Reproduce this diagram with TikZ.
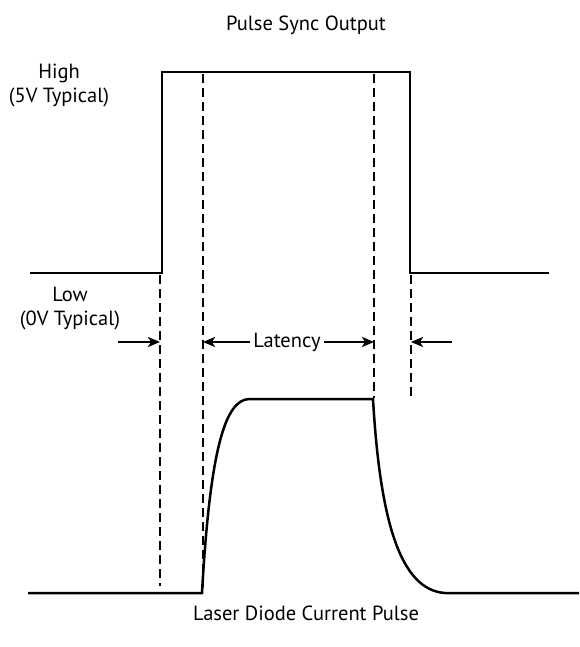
\documentclass[tikz,border=0pt]{standalone}
\usepackage{fontspec}
\setmainfont{PT Sans}
\usetikzlibrary{arrows.meta}

\begin{document}
\begin{tikzpicture}[x=1pt, y=-1pt, >={Stealth[length=12pt,width=10pt,inset=3pt]},
  sig/.style={line width=2.5pt},
  guide/.style={line width=2.3pt, dash pattern=on 9pt off 5pt},
  lbl/.style={font=\fontsize{20.5}{24}\selectfont, align=center}]
\useasboundingbox (0,0) rectangle (579,647);
\node[lbl] (title) at (306,25) {Pulse Sync Output};
\node[lbl] (high) at (59,85) {High\\(5V Typical)};
\node[lbl] (low) at (70,309) {Low\\(0V Typical)};
\node[lbl] (lat) at (287,342) {Latency};
\node[lbl] (ldcp) at (306,613) {Laser Diode Current Pulse};
\coordinate (S0) at (30,273);
\coordinate (S1) at (162,273);
\coordinate (S2) at (162,72);
\coordinate (S3) at (410,72);
\coordinate (S4) at (410,273);
\coordinate (S5) at (549,273);
\draw[sig, line join=miter] (S0) -- (S1) -- (S2) -- (S3) -- (S4) -- (S5);
\coordinate (L0) at (28,593);
\coordinate (L1) at (202,593);
\coordinate (L2) at (249,399);
\coordinate (L3) at (373,399);
\coordinate (L4) at (445,593);
\coordinate (L5) at (579,593);
\draw[sig] (L0) -- (L1) .. controls (210,450) and (225,400) .. (L2) -- (L3)
  .. controls (380,520) and (400,590) .. (L4) -- (L5);
\draw[guide] (160,275) -- (160,586);
\draw[guide] (203,74) -- (203,592);
\draw[guide] (374,74) -- (374,398);
\draw[guide] (411,275) -- (411,396);
\coordinate (A1) at (118,342);
\coordinate (A2) at (452,342);
\draw[->, line width=2pt] (A1) -- (160,342);
\draw[->, line width=2pt] (lat.west) -- (203,342);
\draw[->, line width=2pt] (lat.east) -- (374,342);
\draw[->, line width=2pt] (A2) -- (411,342);
\end{tikzpicture}
\end{document}
